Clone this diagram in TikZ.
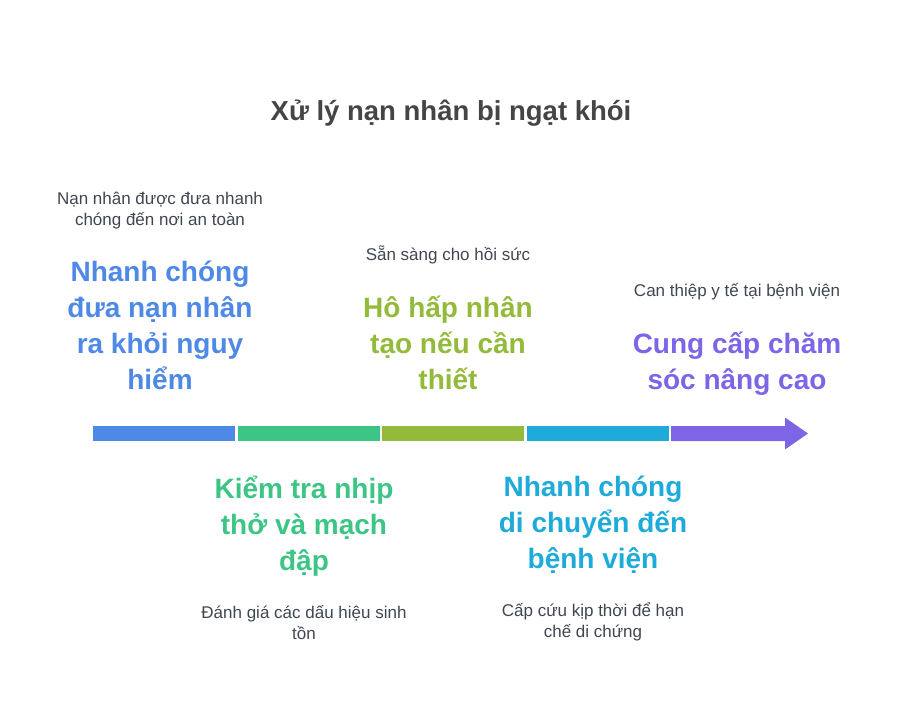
\documentclass[tikz,border=0pt]{standalone}
\usepackage{fontspec}
\setmainfont{Liberation Sans}
\usetikzlibrary{positioning}

\definecolor{cblue}{HTML}{4E89E6}
\definecolor{cgreen}{HTML}{3CC585}
\definecolor{colive}{HTML}{93BA3A}
\definecolor{ccyan}{HTML}{1EABD9}
\definecolor{cpurple}{HTML}{7E64E6}
\definecolor{ctitle}{HTML}{454545}
\definecolor{cdesc}{HTML}{404650}

\tikzset{
	every segment/.style={rectangle, inner sep=0pt, minimum width=142pt, minimum height=15pt},
	every step label/.style={align=center, inner sep=0pt, font=\fontsize{28}{36}\selectfont\bfseries,
		execute at begin node=\strut, execute at end node=\strut},
	every step note/.style={align=center, inner sep=0pt, font=\fontsize{17}{21}\selectfont, text=cdesc,
		execute at begin node=\strut, execute at end node=\strut},
}

\begin{document}
\begin{tikzpicture}[x=1pt, y=-1pt]
	
	\useasboundingbox (0,0) rectangle (903,723);
	
	\node [font=\fontsize{27.5}{32}\selectfont\bfseries, text=ctitle] (title) at (451,113) {Xử lý nạn nhân bị ngạt khói};
	
	\foreach \c [count=\i] in {cblue,cgreen,colive,ccyan}
	\node [every segment/.try, fill=\c] (seg-\i) at ({93+144.5*(\i-1)+71},433.5) {};
	
	\fill [cpurple] (671,426) coordinate (seg-5) -- (785,426) -- (785,417.5) -- (808,433.5)
	-- (785,449.5) -- (785,441) -- (671,441) -- cycle;
	
	% labels above the bar
	\foreach \c/\x/\l [count=\i] in {
		cblue/160/{Nhanh chóng\\đưa nạn nhân\\ra khỏi nguy\\hiểm},
		colive/448/{Hô hấp nhân\\tạo nếu cần\\thiết},
		cpurple/737/{Cung cấp chăm\\sóc nâng cao}}
	\node [every step label/.try, text=\c, anchor=south] (up-\i) at (\x,400) {\l};
	
	\foreach \l [count=\i] in {
		{Nạn nhân được đưa nhanh\\chóng đến nơi an toàn},
		{Sẵn sàng cho hồi sức},
		{Can thiệp y tế tại bệnh viện}}
	\node [every step note/.try, above=28pt of up-\i] (upnote-\i) {\l};
	
	% labels below the bar
	\foreach \c/\x/\l [count=\i] in {
		cgreen/304/{Kiểm tra nhịp\\thở và mạch\\đập},
		ccyan/593/{Nhanh chóng\\di chuyển đến\\bệnh viện}}
	\node [every step label/.try, text=\c, anchor=north] (down-\i) at (\x,475.5) {\l};
	
	\foreach \l [count=\i] in {
		{Đánh giá các dấu hiệu sinh\\tồn},
		{Cấp cứu kịp thời để hạn\\chế di chứng}}
	\node [every step note/.try, below=23.5pt of down-\i] (downnote-\i) {\l};
	
\end{tikzpicture}
\end{document}
